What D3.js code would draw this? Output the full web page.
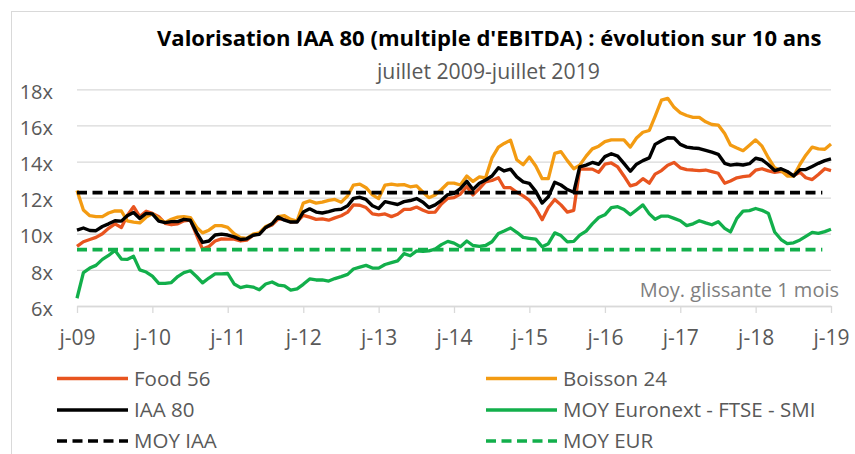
<!DOCTYPE html>
<html><head><meta charset="utf-8">
<script src="https://cdn.jsdelivr.net/npm/d3@7"></script>
<style>html,body{margin:0;padding:0;background:#fff;} svg{display:block;font-family:'Open Sans',sans-serif;}</style>
</head><body><svg id="c" width="855" height="454"></svg>
<script>
// ---- data ----
const titleText = "Valorisation IAA 80 (multiple d'EBITDA) : évolution sur 10 ans";
const subtitleText = "juillet 2009-juillet 2019";
const noteText = "Moy. glissante 1 mois";
const xTickLabels = ["j-09","j-10","j-11","j-12","j-13","j-14","j-15","j-16","j-17","j-18","j-19"];
const xTickYears = [2009,2010,2011,2012,2013,2014,2015,2016,2017,2018,2019];
const yTickValues = [6,8,10,12,14,16,18];
const yTickLabels = ["6x","8x","10x","12x","14x","16x","18x"];
const seriesNames = ["Food 56","Boisson 24","IAA 80","MOY Euronext - FTSE - SMI","MOY IAA","MOY EUR"];
// monthly values, juillet 2009 .. juillet 2019
const food56 = [9.3,9.56,9.68,9.8,10.0,10.3,10.55,10.35,11.0,11.5, 10.95,11.25,11.13,10.95,10.58,10.5,10.55,10.72,10.75,9.9, 9.15,9.3,9.6,9.72,9.7,9.7,9.6,9.65,9.92,10.0, 10.35,10.49,10.82,10.8,10.65,10.67,11.02,10.92,10.8,10.82, 10.75,10.88,11.0,11.2,11.6,11.58,11.45,11.1,11.05,11.1, 10.95,11.08,11.35,11.35,11.48,11.3,11.18,11.2,11.65,11.96, 12.0,12.2,12.62,12.15,12.5,12.88,12.95,13.1,12.55,12.55, 12.3,12.1,11.85,11.4,10.78,11.45,11.9,11.6,11.2,11.3, 13.6,13.58,13.58,13.4,13.85,13.92,13.7,13.2,12.65,12.75, 13.05,12.8,13.3,13.5,13.8,13.95,13.65,13.55,13.53,13.5, 13.53,13.44,13.35,12.8,12.92,13.1,13.16,13.2,13.52,13.6, 13.48,13.4,13.45,13.35,13.22,13.4,13.1,13.0,13.28,13.6, 13.5];
const boisson24 = [12.4,11.32,11.0,10.95,10.95,11.15,11.27,11.26,10.72,10.65, 10.6,10.92,11.1,10.85,10.62,10.8,10.92,10.95,10.9,10.35, 10.05,10.2,10.45,10.45,10.35,10.0,9.78,9.75,9.98,10.05, 10.4,10.55,10.95,11.0,10.8,10.7,11.7,11.82,11.7,11.75, 11.85,11.9,11.75,12.1,12.7,12.75,12.55,12.15,11.95,12.7, 12.75,12.7,12.72,12.6,12.65,12.3,12.0,12.15,12.45,12.8, 12.8,12.7,13.2,12.9,13.15,13.1,14.2,14.8,15.0,15.18, 14.1,13.82,14.25,13.75,13.05,13.05,14.45,14.55,14.05,13.6, 13.8,14.3,14.7,14.85,15.1,15.2,15.2,15.2,14.8,15.3, 15.62,15.72,16.5,17.4,17.5,17.0,16.7,16.55,16.45,16.45, 16.2,16.05,16.02,15.55,14.92,14.75,14.6,14.9,15.2,14.85, 14.2,13.65,13.5,13.2,13.2,13.85,14.35,14.8,14.7,14.68, 14.97];
const iaa80 = [10.2,10.32,10.18,10.17,10.4,10.55,10.72,10.7,11.0,11.18, 10.85,11.13,11.1,10.7,10.62,10.67,10.67,10.8,10.75,10.05, 9.52,9.6,9.93,9.98,9.93,9.83,9.68,9.72,9.92,9.97, 10.35,10.55,10.93,10.75,10.65,10.65,11.2,11.38,11.2,11.15, 11.23,11.32,11.36,11.55,11.96,12.02,11.9,11.55,11.4,11.78, 11.7,11.62,11.78,11.84,11.95,11.75,11.45,11.6,11.85,12.17, 12.24,12.5,12.9,12.45,12.8,12.98,13.2,13.65,13.48,13.58, 13.15,12.87,12.79,12.35,11.7,12.05,12.85,12.7,12.45,12.3, 13.7,13.8,13.95,13.85,14.27,14.43,14.3,13.9,13.46,13.85, 14.05,14.2,14.95,15.15,15.32,15.3,14.95,14.8,14.75,14.72, 14.62,14.52,14.4,13.9,13.8,13.85,13.81,13.88,14.18,14.1, 13.82,13.5,13.6,13.45,13.2,13.55,13.56,13.73,13.9,14.05, 14.15];
const moyEuronext = [6.43,7.85,8.1,8.25,8.58,8.8,9.08,8.6,8.58,8.75, 8.0,7.88,7.65,7.25,7.25,7.3,7.63,7.85,7.95,7.62, 7.28,7.55,7.78,7.78,7.8,7.22,7.02,7.1,7.05,6.9, 7.22,7.33,7.16,7.12,6.88,6.95,7.2,7.5,7.44,7.44, 7.38,7.52,7.63,7.75,8.05,8.15,8.25,8.1,8.1,8.3, 8.4,8.5,8.9,8.78,9.05,9.03,9.05,9.15,9.4,9.58, 9.48,9.28,9.6,9.35,9.3,9.35,9.56,10.02,10.15,10.32, 10.08,9.8,9.75,9.7,9.28,9.45,10.05,9.9,9.55,9.58, 9.92,10.15,10.55,10.9,11.05,11.45,11.5,11.35,11.05,11.32, 11.6,11.1,10.8,10.98,10.98,10.85,10.72,10.45,10.55,10.72, 10.6,10.5,10.67,10.3,10.1,10.85,11.25,11.28,11.4,11.3, 11.12,10.1,9.68,9.45,9.5,9.66,9.86,10.08,10.02,10.12, 10.25];
const moyIAA = 12.28;
const moyEUR = 9.12;
const moyStart = new Date(2009, 6, 1), moyEnd = new Date(2019, 4, 20);

// ---- chart ----
const months = d3.timeMonth.range(new Date(2009, 6, 1), new Date(2019, 7, 1));
const svg = d3.select("#c");
const m = {left: 77, right: 831, top: 89.3, bottom: 306};
const grid = "#d9d9d9", txt = "#595959";
const colors = {food: "#E8541F", boisson: "#F39B12", iaa: "#000000", eur: "#12AF4B"};
const dash = "10,5.5";

svg.append("rect").attr("x", 11.5).attr("y", 11.5).attr("width", 860).attr("height", 460)
  .attr("fill", "#fff").attr("stroke", grid).attr("stroke-width", 1);

const x = d3.scaleTime().domain([new Date(2009, 6, 1), new Date(2019, 6, 1)]).range([m.left, m.right]);
const y = d3.scaleLinear().domain([6, 18]).range([m.bottom, m.top]);

// y axis + gridlines
const yAxis = svg.append("g").attr("transform", `translate(${m.left},0)`)
  .call(d3.axisLeft(y).tickValues(yTickValues).tickFormat((d, i) => yTickLabels[i])
    .tickSize(-(m.right - m.left)).tickPadding(24));
yAxis.select(".domain").remove();
yAxis.selectAll(".tick line").attr("stroke", grid).attr("stroke-width", 1.3);
yAxis.selectAll(".tick text").attr("fill", txt).attr("font-size", 20).attr("dy", "0.46em")
  .attr("font-family", "'Open Sans',sans-serif");

// x axis
const xAxis = svg.append("g").attr("transform", `translate(0,${m.bottom})`)
  .call(d3.axisBottom(x).tickValues(xTickYears.map(yr => new Date(yr, 6, 1)))
    .tickFormat((d, i) => xTickLabels[i]).tickSize(7).tickSizeOuter(0).tickPadding(17));
xAxis.select(".domain").attr("stroke", grid).attr("stroke-width", 1.3);
xAxis.selectAll(".tick line").attr("stroke", grid).attr("stroke-width", 1.3);
xAxis.selectAll(".tick text").attr("fill", txt).attr("font-size", 21)
  .attr("font-family", "'Open Sans',sans-serif");

// series
const line = d3.line().x(d => x(d[0])).y(d => y(d[1]));
const zip = arr => months.map((d, i) => [d, arr[i]]);
const series = [
  {data: zip(food56), color: colors.food, w: 3.3},
  {data: zip(boisson24), color: colors.boisson, w: 3.3},
  {data: zip(iaa80), color: colors.iaa, w: 3.4},
  {data: zip(moyEuronext), color: colors.eur, w: 3.3},
  {data: [[moyStart, moyIAA], [moyEnd, moyIAA]], color: colors.iaa, w: 3.6, dash: dash},
  {data: [[moyStart, moyEUR], [moyEnd, moyEUR]], color: colors.eur, w: 3.6, dash: dash}
];
series.forEach(s => {
  svg.append("path").attr("d", line(s.data)).attr("fill", "none")
    .attr("stroke", s.color).attr("stroke-width", s.w)
    .attr("stroke-linejoin", "round")
    .attr("stroke-dasharray", s.dash || null);
});

// note
svg.append("text").attr("x", 839).attr("y", 296.5).attr("text-anchor", "end")
  .attr("font-size", 20).attr("fill", "#7f7f7f").text(noteText);

// title
const title = svg.append("text").attr("x", 157).attr("y", 46).attr("font-weight", 700)
  .attr("font-size", 21).attr("fill", "#000").text(titleText);
const tl = title.node().getComputedTextLength();
title.attr("font-size", 21 * 665 / tl);
const sub = svg.append("text").attr("x", 377).attr("y", 79).attr("font-size", 21)
  .attr("fill", txt).text(subtitleText);
const sl = sub.node().getComputedTextLength();
sub.attr("font-size", 21 * 223 / sl);

// legend
const legendItems = [
  {name: seriesNames[0], color: colors.food, col: 0, row: 0},
  {name: seriesNames[1], color: colors.boisson, col: 1, row: 0},
  {name: seriesNames[2], color: colors.iaa, col: 0, row: 1},
  {name: seriesNames[3], color: colors.eur, col: 1, row: 1},
  {name: seriesNames[4], color: colors.iaa, col: 0, row: 2, dash: dash},
  {name: seriesNames[5], color: colors.eur, col: 1, row: 2, dash: dash}
];
const colX = [57, 486], rowY = [378.5, 410, 441];
legendItems.forEach(it => {
  const lx = colX[it.col], ly = rowY[it.row];
  svg.append("line").attr("x1", lx).attr("x2", lx + 71).attr("y1", ly).attr("y2", ly)
    .attr("stroke", it.color).attr("stroke-width", 3.5)
    .attr("stroke-dasharray", it.dash || null);
  svg.append("text").attr("x", lx + 77).attr("y", ly + 7).attr("font-size", 20.5)
    .attr("fill", txt).text(it.name);
});
</script></body></html>
